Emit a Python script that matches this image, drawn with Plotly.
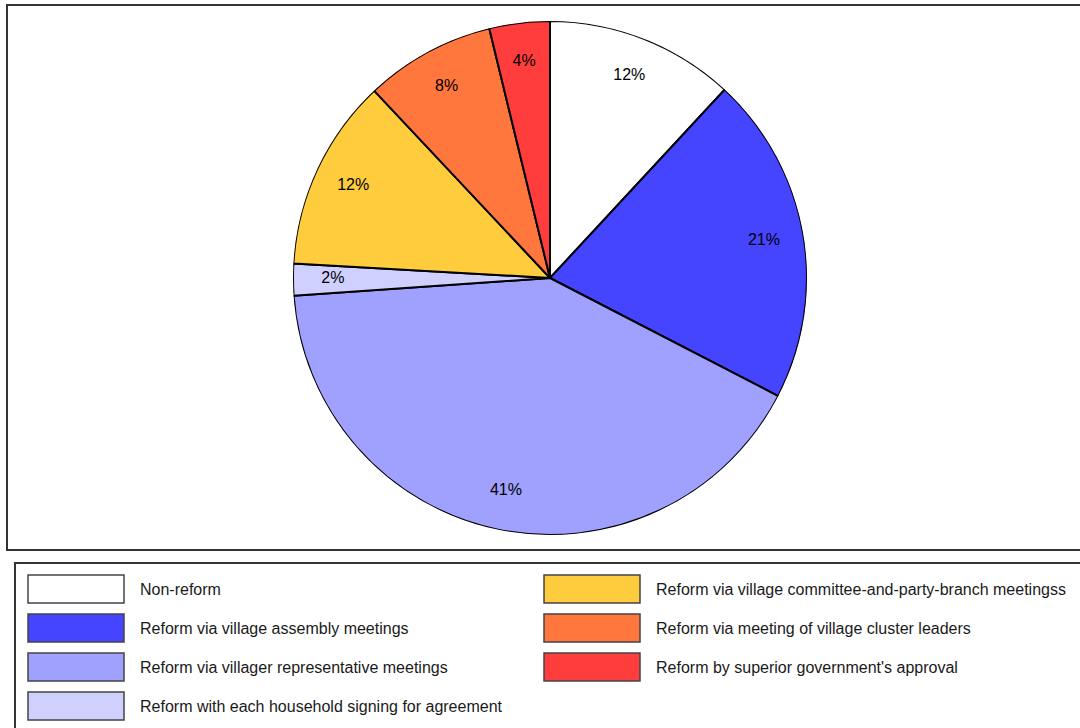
import plotly.graph_objects as go

categories = [
    "Non-reform",
    "Reform via village assembly meetings",
    "Reform via villager representative meetings",
    "Reform with each household signing for agreement",
    "Reform via village committee-and-party-branch meetingss",
    "Reform via meeting of village cluster leaders",
    "Reform by superior government's approval",
]
values = [11.9, 20.7, 41.3, 2.0, 12.1, 8.2, 3.8]
colors = ["#FFFFFF", "#4545FF", "#A0A0FF", "#D0D0FF", "#FFCC3E", "#FF773D", "#FF3D3D"]

W, H = 1080, 728
FONT = "Liberation Sans, Arial, Helvetica, sans-serif"

def px(x):
    return x / W

def py(y):
    return 1 - y / H

dom_x = [px(550 - 257), px(550 + 257)]
dom_y = [py(535), py(21)]

# slice geometry in degrees (clockwise from 12 o'clock), derived from values
total = sum(values)
widths, mids, texts = [], [], []
cum = 0.0
for v in values:
    widths.append(v / total * 360.0)
    mids.append((cum + v / 2) / total * 360.0)
    texts.append(f"{round(v / total * 100):.0f}%")
    cum += v

fig = go.Figure()
fig.add_trace(go.Barpolar(
    r=[1.0] * len(values),
    theta=mids,
    width=widths,
    marker=dict(color=colors, line=dict(color="#000000", width=2)),
    customdata=categories,
    hovertemplate="%{customdata}<extra></extra>",
    showlegend=False,
))

fig.add_trace(go.Scatterpolar(
    r=[0.845] * len(values),
    theta=mids,
    mode="text",
    text=texts,
    textfont=dict(family=FONT, size=16, color="#000000"),
    textposition="middle center",
    showlegend=False,
    hoverinfo="skip",
))

shapes = []
annotations = []
shapes.append(dict(type="rect", xref="paper", yref="paper",
                   x0=px(7), x1=1.01, y0=py(550), y1=py(5),
                   line=dict(color="#333333", width=2), fillcolor="rgba(0,0,0,0)"))
shapes.append(dict(type="rect", xref="paper", yref="paper",
                   x0=px(15), x1=1.01, y0=-0.02, y1=py(563),
                   line=dict(color="#333333", width=2), fillcolor="rgba(0,0,0,0)"))

row_y = [589, 628, 667, 706]
for i, (lab, col) in enumerate(zip(categories, colors)):
    if i < 4:
        sx, ry = 28, row_y[i]
    else:
        sx, ry = 544, row_y[i - 4]
    shapes.append(dict(type="rect", xref="paper", yref="paper",
                       x0=px(sx), x1=px(sx + 96), y0=py(ry + 14), y1=py(ry - 14),
                       line=dict(color="#444444", width=1.5), fillcolor=col))
    annotations.append(dict(xref="paper", yref="paper", x=px(sx + 110), y=py(ry),
                            xanchor="left", yanchor="middle", showarrow=False,
                            text=lab, font=dict(family=FONT, size=16, color="#1a1a1a")))

fig.update_layout(
    width=W, height=H,
    margin=dict(l=0, r=0, t=0, b=0),
    paper_bgcolor="#FFFFFF",
    plot_bgcolor="#FFFFFF",
    polar=dict(
        domain=dict(x=dom_x, y=dom_y),
        bgcolor="rgba(0,0,0,0)",
        bargap=0,
        radialaxis=dict(range=[0, 1], visible=False, showgrid=False),
        angularaxis=dict(rotation=90, direction="clockwise", visible=False,
                         showgrid=False, showline=False),
    ),
    shapes=shapes,
    annotations=annotations,
)

fig.write_html("out.html")
